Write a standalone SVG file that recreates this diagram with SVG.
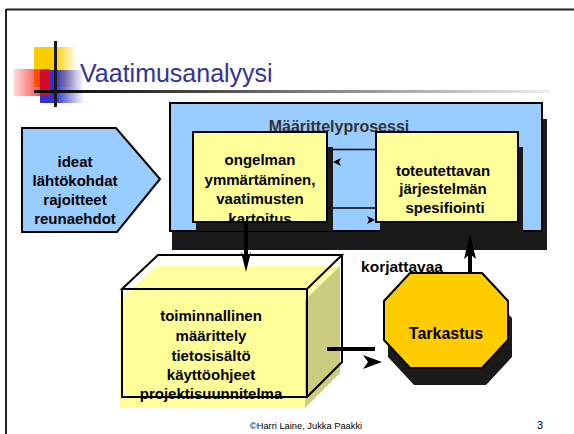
<svg xmlns="http://www.w3.org/2000/svg" width="574" height="434" viewBox="0 0 574 434">
<defs>
<linearGradient id="gY" x1="0" y1="0" x2="1" y2="0"><stop offset="0" stop-color="#FFCC00"/><stop offset="0.48" stop-color="#FFCC00"/><stop offset="1" stop-color="#FFCC00" stop-opacity="0"/></linearGradient>
<linearGradient id="gB" x1="0" y1="0" x2="1" y2="0"><stop offset="0" stop-color="#3333CC"/><stop offset="0.35" stop-color="#3333CC"/><stop offset="1" stop-color="#3333CC" stop-opacity="0"/></linearGradient>
<linearGradient id="gR" x1="0" y1="0" x2="1" y2="0"><stop offset="0" stop-color="#FF0000" stop-opacity="0.15"/><stop offset="1" stop-color="#FF0000" stop-opacity="0.9"/></linearGradient>
<linearGradient id="gL" x1="0" y1="0" x2="1" y2="0"><stop offset="0" stop-color="#000"/><stop offset="0.3" stop-color="#444"/><stop offset="1" stop-color="#eeeeee"/></linearGradient>
<clipPath id="c1"><rect x="193" y="132" width="134" height="90"/></clipPath>
<style>
.t{font-family:"Liberation Sans",Arial,sans-serif;font-weight:bold;font-size:15px;fill:#000;text-anchor:middle}
.box{stroke:#000;stroke-width:2}
.sh{fill:#1a1a1a}
.ln{stroke:#000;fill:none}
.ah{fill:#000}
</style>
</defs>
<rect width="574" height="434" fill="#fff"/>
<!-- slide frame -->
<line x1="6" y1="9.5" x2="574" y2="9.5" stroke="#222" stroke-width="2"/>
<line x1="6" y1="9" x2="6" y2="434" stroke="#222" stroke-width="2"/>
<!-- title decoration -->
<g id="title">
<rect x="34" y="47" width="43" height="40" fill="url(#gY)"/>
<rect x="40" y="70" width="44" height="33" fill="url(#gB)"/>
<rect x="14" y="69" width="36" height="27" fill="url(#gR)"/>
<rect x="34" y="90" width="516" height="3" fill="url(#gL)"/>
<rect x="54" y="41" width="3" height="66" fill="#1a1a1a"/>
<text x="80" y="82" font-family="Liberation Sans,Arial,sans-serif" font-size="25" fill="#333399">Vaatimusanalyysi</text>
</g>
<!-- input pentagon -->
<g id="ideat">
<polygon class="box" points="22,128 116,128 160,179 117,232 22,232" fill="#99CCFF"/>
<text class="t" x="75" y="167">ideat</text>
<text class="t" x="75" y="186">lähtökohdat</text>
<text class="t" x="75" y="205">rajoitteet</text>
<text class="t" x="75" y="224">reunaehdot</text>
</g>
<!-- process box -->
<g id="maarittelyprosessi">
<rect class="sh" x="172" y="119" width="375" height="131"/>
<rect class="box" x="170" y="103" width="372" height="128" fill="#99CCFF"/>
<text class="t" x="339" y="132" style="fill:#333;font-size:16px">Määrittelyprosessi</text>
</g>
<g id="ongelman">
<rect class="sh" x="196" y="147" width="137" height="84"/>
<rect class="box" x="193" y="132" width="134" height="90" fill="#FFFF99"/>
<g clip-path="url(#c1)">
<text class="t" x="260" y="165">ongelman</text>
<text class="t" x="260" y="185">ymmärtäminen,</text>
<text class="t" x="260" y="204">vaatimusten</text>
<text class="t" x="260" y="224">kartoitus</text>
</g>
</g>
<g id="spesifiointi">
<rect class="sh" x="380" y="147" width="143" height="93"/>
<rect class="box" x="376" y="132" width="142" height="90" fill="#FFFF99"/>
<text class="t" x="443" y="176">toteutettavan</text>
<text class="t" x="443" y="194">järjestelmän</text>
<text class="t" x="445" y="213">spesifiointi</text>
</g>
<!-- cube -->
<g id="dokumentit">
<g transform="translate(-2,11)">
<polygon points="158,255 342,255 307,289 122,289" fill="#FFFFA0"/>
<rect x="122" y="289" width="185" height="108" fill="#FFFF99"/>
<polygon points="307,289 342,255 342,362 307,397" fill="#CCCC80"/>
</g>
<g class="ln" stroke-width="2">
<polygon points="158,255 342,255 307,289 122,289"/>
<rect x="122" y="289" width="185" height="108"/>
<polyline points="342,255 342,362 307,397"/>
</g>
<text class="t" x="211" y="321">toiminnallinen</text>
<text class="t" x="211" y="341">määrittely</text>
<text class="t" x="211" y="361">tietosisältö</text>
<text class="t" x="211" y="380">käyttöohjeet</text>
<text class="t" x="211" y="399">projektisuunnitelma</text>
</g>
<!-- inspection -->
<g id="tarkastus">
<polygon class="sh" transform="translate(4,17)" points="410,273 482,273 508,301 508,340 482,368 410,368 384,340 384,301"/>
<polygon class="box" points="410,273 482,273 508,301 508,340 482,368 410,368 384,340 384,301" fill="#FFCC00"/>
<text class="t" x="446" y="339" style="font-size:16px">Tarkastus</text>
</g>
<text class="t" x="402" y="272" style="font-size:15.5px">korjattavaa</text>
<!-- connectors -->
<g id="connectors">
<line class="ln" x1="333" y1="149.5" x2="376" y2="149.5" stroke-width="1.5"/>
<path class="ah" d="M333,162 L341,158 L339,162 L341,166 Z"/>
<line class="ln" x1="333" y1="208" x2="376" y2="208" stroke-width="1.5"/>
<path class="ah" d="M375,220 L367,216 L369,220 L367,224 Z"/>
<line class="ln" x1="246" y1="222" x2="246" y2="259" stroke-width="4"/>
<path class="ah" d="M246,272 L241,252 L246,258 L251,252 Z"/>
<line class="ln" x1="470" y1="273" x2="470" y2="252" stroke-width="4"/>
<path class="ah" d="M470,234 L464,259 L470,254 L476,259 Z"/>
<line class="ln" x1="327" y1="349" x2="375" y2="349" stroke-width="4"/>
<path class="ah" d="M382,362 L363,355 L368,362 L363,369 Z"/>
</g>
<!-- footer -->
<text x="306" y="429" font-family="Liberation Sans,Arial,sans-serif" font-size="9.3" fill="#000" text-anchor="middle">©Harri Laine, Jukka Paakki</text>
<text x="540" y="429" font-family="Liberation Sans,Arial,sans-serif" font-size="11" fill="#000" text-anchor="middle">3</text>
</svg>
